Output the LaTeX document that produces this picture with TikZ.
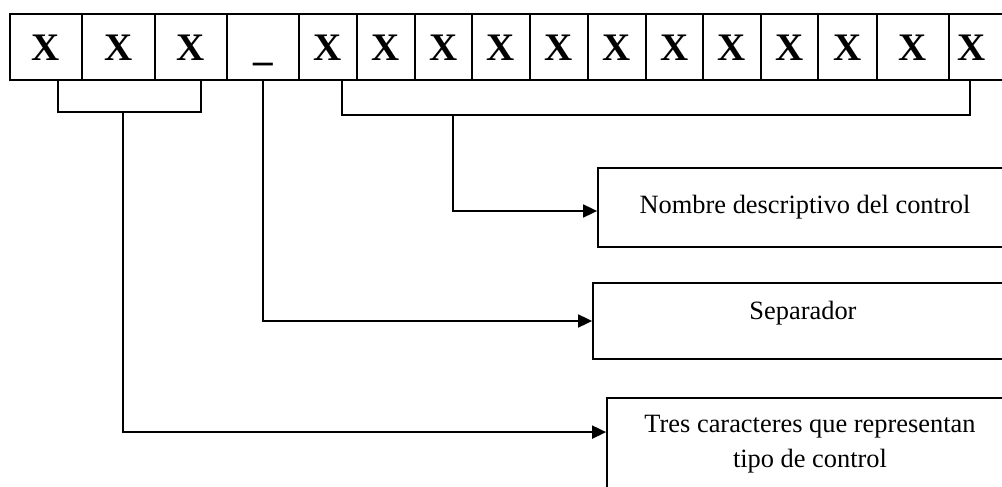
\documentclass[tikz,border=0pt]{standalone}
\usepackage{fontspec}
\setmainfont{Liberation Serif}
\usetikzlibrary{arrows.meta,calc}
\begin{document}
\begin{tikzpicture}[x=1pt,y=-1pt,
  cell/.style={draw,line width=1.8pt,minimum height=66pt,inner sep=0pt,outer sep=0pt,text height=27pt,text depth=0pt,font=\fontsize{39}{39}\selectfont\bfseries},
  box/.style={draw,line width=1.8pt,inner sep=0pt},
  lbl/.style={font=\fontsize{26.4}{35}\selectfont,align=center,inner sep=0pt},
  wire/.style={line width=1.8pt},
  arr/.style={wire,-{Triangle[length=14pt,width=13pt]}}]
\useasboundingbox (0,0) rectangle (1002,487);
% strip of cells
\foreach \l/\r/\t [count=\i] in {10/82/X,82/155/X,155/227/X,227/299/\_,299/357/X,357/415/X,415/472/X,472/530/X,530/588/X,588/646/X,646/703/X,703/761/X,761/818/X,818/877/X,877/949/X}
  \node[cell,minimum width={\r-\l}] (c\i) at ({(\l+\r)/2},47) {\t};
\node[cell,anchor=west,align=left,text width=65pt,inner xsep=8pt] (c16) at (949,47) {X};
% boxes
\node[box,minimum width=415pt,minimum height=79pt] (b1) at (805.5,207.5) {};
\node[box,minimum width=420pt,minimum height=76pt] (b2) at (803,321) {};
\node[box,minimum width=406pt,minimum height=110pt] (b3) at (810,453) {};
\node[lbl,anchor=base] (t1) at (805,213) {Nombre descriptivo del control};
\node[lbl,anchor=base] (t2) at (803,319) {Separador};
\node[lbl,anchor=base] (t3) at (810,467) {Tres caracteres que representan\\tipo de control};
% brackets and connectors
\draw[wire] ([xshift=12pt]c1.south) -- ([xshift=12pt,yshift=-32pt]c1.south) -| ([xshift=10pt]c3.south);
\coordinate (lb) at (123,112);
\draw[arr] (lb) |- ([yshift=-35pt]b3.north west);
\draw[arr] (c4.south) |- (b2.west);
\draw[wire] ([xshift=14pt]c5.south) -- ([xshift=14pt,yshift=-35pt]c5.south) -| ([xshift=21pt]c16.south west);
\coordinate (rb) at (453,115);
\draw[arr] (rb) |- ([yshift=-3.5pt]b1.west);
\end{tikzpicture}
\end{document}
